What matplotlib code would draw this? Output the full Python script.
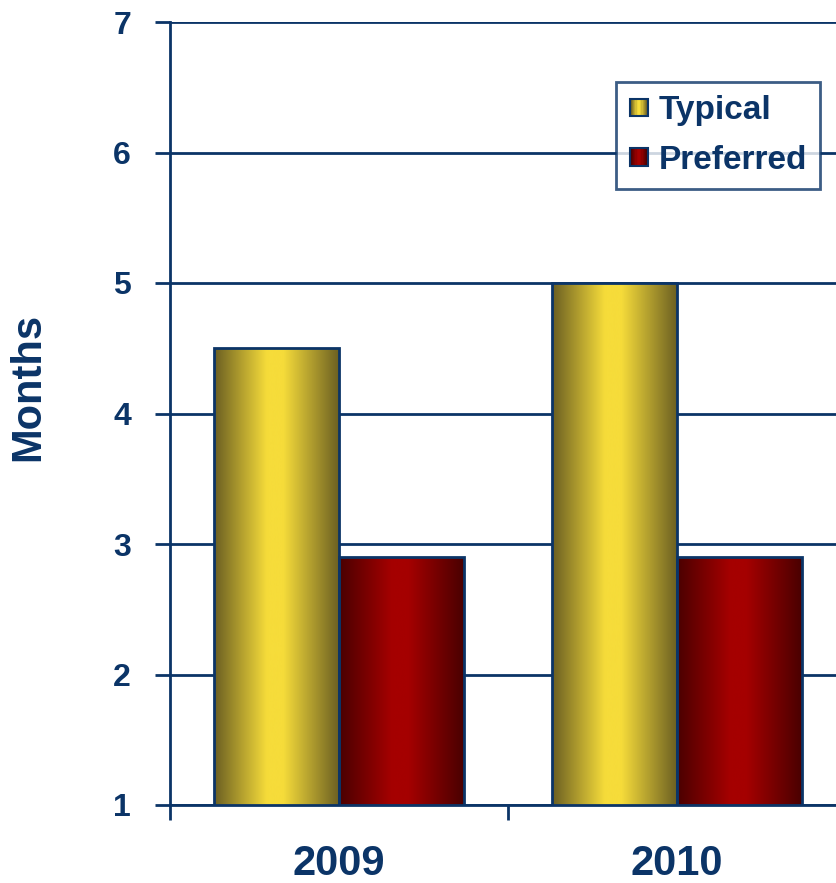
import numpy as np
import matplotlib
matplotlib.use('Agg')
import matplotlib.pyplot as plt
import matplotlib.transforms as mtransforms
from matplotlib.colors import LinearSegmentedColormap
from matplotlib.patches import Rectangle
from matplotlib.legend_handler import HandlerBase

# data
years = ['2009', '2010']
series = ['Typical', 'Preferred']
typical = [4.5, 5.0]
preferred = [2.9, 2.9]

navy = '#0b3467'
plt.rcParams['font.family'] = ['Liberation Sans', 'DejaVu Sans']
plt.rcParams['font.weight'] = 'bold'

# horizontal shading for each series: dark edges, bright middle
yellow_cm = LinearSegmentedColormap.from_list(
    'yel', [(0.0, '#6a5e22'), (0.42, '#f6dc3a'), (0.55, '#f6dc3a'), (1.0, '#6a5e22')])
red_cm = LinearSegmentedColormap.from_list(
    'red', [(0.0, '#4a0000'), (0.42, '#a50000'), (0.55, '#a50000'), (1.0, '#480000')])
cmaps = [yellow_cm, red_cm]

fig = plt.figure(figsize=(8.36, 8.83), dpi=100)
W, H = 836, 883
# axes runs from x=170 to 846 px (right side falls off the canvas)
ax = fig.add_axes([170 / W, 1 - 805 / H, 676 / W, (805 - 22) / H])

ymin, ymax = 1, 7
grad = np.linspace(0, 1, 256).reshape(1, -1)


def shaded_bar(x0, width, top, cmap):
    rect = Rectangle((x0, ymin), width, top - ymin, facecolor='none',
                     edgecolor=navy, linewidth=2, zorder=4)
    ax.add_patch(rect)
    im = ax.imshow(grad, cmap=cmap, aspect='auto', extent=(x0, x0 + width, ymin, top),
                   interpolation='bicubic', zorder=3)
    im.set_clip_path(rect)


bw = 0.37
for i, vals in enumerate([typical, preferred]):
    for j, v in enumerate(vals):
        shaded_bar(j + 0.13 + i * bw, bw, v, cmaps[i])

ax.set_xlim(0, 2)
ax.set_ylim(ymin, ymax)
ax.set_yticks(range(1, 8))
ax.set_xticks([0, 1, 2])
ax.set_xticklabels([])
ax.yaxis.grid(True, color=navy, linewidth=2)
ax.set_axisbelow(True)
for s in ['top', 'right']:
    ax.spines[s].set_visible(False)
for s in ['left', 'bottom']:
    ax.spines[s].set_color(navy)
    ax.spines[s].set_linewidth(2)
ax.tick_params(axis='both', colors=navy, width=2, length=11, direction='out')
ax.tick_params(axis='y', labelsize=23, pad=17)
for lbl in ax.get_yticklabels():
    lbl.set_fontweight('bold')

# year labels: x in data coords, y in figure coords
year_tr = mtransforms.blended_transform_factory(ax.transData, fig.transFigure)
for j, yr in enumerate(years):
    ax.text(j + 0.5, 1 - 864 / H, yr, transform=year_tr,
            ha='center', va='center', fontsize=30, fontweight='bold', color=navy)

fig.text(28 / W, 1 - 387 / H, 'Months', rotation=90, ha='center', va='center',
         fontsize=30, fontweight='bold', color=navy)


class GradientHandler(HandlerBase):
    def __init__(self, cmap):
        super().__init__()
        self.cmap = cmap

    def create_artists(self, legend, orig_handle, xdescent, ydescent, width, height,
                       fontsize, trans):
        side = fontsize * 0.52
        x0 = -xdescent + width - side
        y0 = -ydescent + (height - side) / 2
        n = 14
        arts = []
        for k in range(n):
            arts.append(Rectangle((x0 + k * side / n, y0), side / n + 0.3, side,
                                  facecolor=self.cmap((k + 0.5) / n), edgecolor='none',
                                  transform=trans))
        arts.append(Rectangle((x0, y0), side, side, facecolor='none', edgecolor=navy,
                              linewidth=1.5, transform=trans))
        return arts


h1 = Rectangle((0, 0), 1, 1)
h2 = Rectangle((0, 1), 1, 1)
leg = ax.legend([h1, h2], series,
                handler_map={h1: GradientHandler(yellow_cm), h2: GradientHandler(red_cm)},
                loc='upper left', bbox_to_anchor=((616 - 170) / 676, 1 - (82 - 22) / 783),
                fontsize=24, frameon=True, fancybox=False, handlelength=0.55,
                handletextpad=0.32, labelspacing=0.55, borderpad=0.4, borderaxespad=0)
leg.get_frame().set_edgecolor(navy)
leg.get_frame().set_linewidth(2)
leg.set_zorder(6)
for t in leg.get_texts():
    t.set_color(navy)
    t.set_fontweight('bold')

fig.savefig('out.png', dpi=100)
